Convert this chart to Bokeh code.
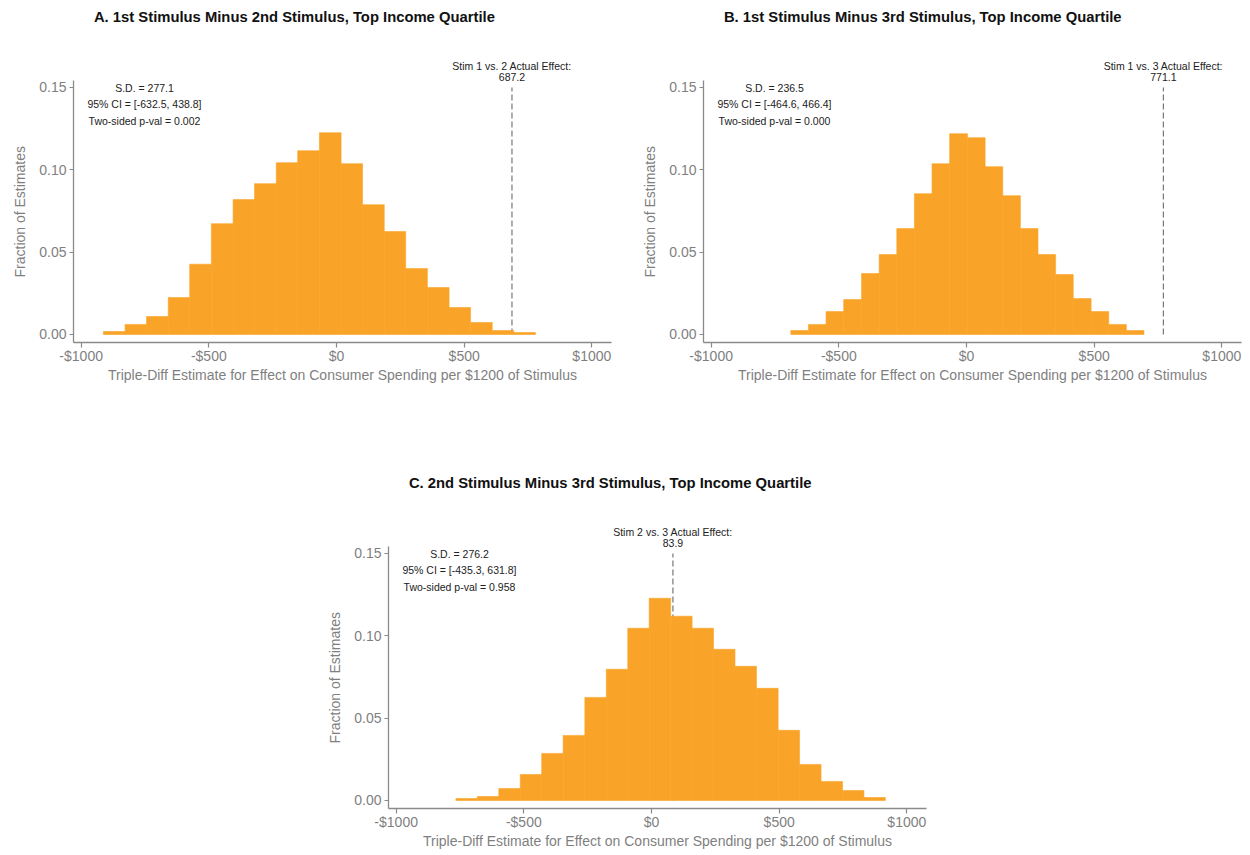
from bokeh.plotting import figure
from bokeh.layouts import column, row
from bokeh.models import Spacer, FixedTicker, NumeralTickFormatter, Title
from bokeh.embed import file_html
from bokeh.resources import INLINE
from bokeh.core.properties import value

# ---------------- data ----------------
titles = [
    "A. 1st Stimulus Minus 2nd Stimulus, Top Income Quartile",
    "B. 1st Stimulus Minus 3rd Stimulus, Top Income Quartile",
    "C. 2nd Stimulus Minus 3rd Stimulus, Top Income Quartile",
]

edges_a = [-913, -828, -744, -659, -575, -490, -405, -321, -236, -152, -67,
           18, 102, 187, 271, 356, 441, 525, 610, 694, 779]
frac_a = [0.0018, 0.0061, 0.0109, 0.0224, 0.0427, 0.0673, 0.0819, 0.0916, 0.1043, 0.1116,
          0.1225, 0.1037, 0.0788, 0.0625, 0.0400, 0.0285, 0.0164, 0.0073, 0.0024, 0.0012]

edges_b = [-688, -619, -550, -481, -411, -342, -273, -204, -135, -66, 4,
           73, 142, 211, 280, 349, 418, 488, 557, 626, 695]
frac_b = [0.0024, 0.0061, 0.0139, 0.0212, 0.0370, 0.0485, 0.0643, 0.0855, 0.1037, 0.1219,
          0.1195, 0.1019, 0.0843, 0.0643, 0.0485, 0.0364, 0.0218, 0.0139, 0.0061, 0.0024]

edges_c = [-766, -682, -598, -514, -430, -346, -261, -177, -93, -9, 75,
           159, 243, 327, 411, 496, 580, 664, 748, 832, 916]
frac_c = [0.0012, 0.0024, 0.0073, 0.0158, 0.0286, 0.0395, 0.0626, 0.0797, 0.1046, 0.1228,
          0.1119, 0.1046, 0.0918, 0.0815, 0.0681, 0.0426, 0.0219, 0.0116, 0.0061, 0.0018]

sd_values = ["277.1", "236.5", "276.2"]
ci_values = ["[-632.5, 438.8]", "[-464.6, 466.4]", "[-435.3, 631.8]"]
p_values = ["0.002", "0.000", "0.958"]
effect_names = ["Stim 1 vs. 2 Actual Effect:", "Stim 1 vs. 3 Actual Effect:", "Stim 2 vs. 3 Actual Effect:"]
effects = [687.2, 771.1, 83.9]

x_ticks = [-1000, -500, 0, 500, 1000]
x_tick_labels = ["-$1000", "-$500", "$0", "$500", "$1000"]
y_ticks = [0.0, 0.05, 0.10, 0.15]

x_title = "Triple-Diff Estimate for Effect on Consumer Spending per $1200 of Stimulus"
y_title = "Fraction of Estimates"

# ---------------- styling ----------------
FONT = "Liberation Sans"
BAR = "#F9A428"
GRAY = "#7f7f7f"
AXIS = "#8a8a8a"

FRAME_W, FRAME_H = 538, 342
Y0 = -0.00486
Y1 = 0.2028
X0, X1 = -1030, 1077


def make_panel(title, edges, fracs, sd, ci, pv, eff_name, eff, right_border, bottom_border):
    p = figure(frame_width=FRAME_W, frame_height=FRAME_H,
               min_border_left=73, min_border_right=right_border,
               min_border_top=0, min_border_bottom=bottom_border,
               x_range=(X0, X1), y_range=(Y0, Y1),
               output_backend="svg", toolbar_location=None)

    p.xgrid.visible = False
    p.ygrid.visible = False
    p.outline_line_color = None
    p.background_fill_color = "white"
    p.border_fill_color = "white"

    # panel title (drawn as text inside the top of the frame)
    p.text(x=[-950], y=[0.1925], text=[title], text_align="left", text_baseline="middle",
           text_font=value(FONT), text_font_size="14.8px", text_font_style="bold",
           text_color="#111111")

    # dashed reference line (behind bars)
    p.segment(x0=[eff], y0=[0], x1=[eff], y1=[0.15], line_color="#777777",
              line_width=1.2, line_dash="6 3")

    p.quad(left=edges[:-1], right=edges[1:], bottom=0, top=fracs,
           fill_color=BAR, line_color=BAR, line_width=0.6)

    p.text(x=[-752, -752, -752], y=[0.1497, 0.1400, 0.1298],
           text=["S.D. = " + sd, "95% CI = " + ci, "Two-sided p-val = " + pv],
           text_align="center", text_baseline="middle",
           text_font=value(FONT), text_font_size="10.5px", text_color="#222222")

    p.text(x=[eff, eff], y=[0.1632, 0.1565], text=[eff_name, f"{eff}"],
           text_align="center", text_baseline="middle",
           text_font=value(FONT), text_font_size="10.5px", text_color="#222222")

    # axes
    xa = p.xaxis[0]
    xa.ticker = FixedTicker(ticks=x_ticks)
    xa.major_label_overrides = {t: l for t, l in zip(x_ticks, x_tick_labels)}
    xa.axis_label = x_title
    xa.axis_label_text_font = FONT
    xa.axis_label_text_font_size = "14px"
    xa.axis_label_text_font_style = "normal"
    xa.axis_label_text_color = GRAY
    xa.axis_label_standoff = 0

    ya = p.yaxis[0]
    ya.ticker = FixedTicker(ticks=y_ticks)
    ya.formatter = NumeralTickFormatter(format="0.00")
    ya.bounds = (Y0, 0.1544)

    for ax in (xa, ya):
        ax.axis_line_color = AXIS
        ax.axis_line_width = 1.3
        ax.major_tick_line_color = AXIS
        ax.major_tick_line_width = 1.2
        ax.major_tick_in = 0
        ax.minor_tick_line_color = None
        ax.major_label_text_font = FONT
        ax.major_label_text_font_size = "14px"
        ax.major_label_text_color = GRAY
    xa.major_tick_out = 5
    xa.major_label_standoff = 0
    ya.major_tick_out = 4
    ya.major_label_standoff = 3

    yt = Title(text=y_title, align="left", offset=65, standoff=18,
               text_font=FONT, text_font_size="14px", text_font_style="normal",
               text_color=GRAY)
    p.add_layout(yt, "left")
    return p


pa = make_panel(titles[0], edges_a, frac_a, sd_values[0], ci_values[0], p_values[0],
                effect_names[0], effects[0], 19, 124)
pb = make_panel(titles[1], edges_b, frac_b, sd_values[1], ci_values[1], p_values[1],
                effect_names[1], effects[1], 9, 124)
pc = make_panel(titles[2], edges_c, frac_c, sd_values[2], ci_values[2], p_values[2],
                effect_names[2], effects[2], 19, 0)

layout = column(row(pa, pb), row(Spacer(width=315), pc))

open("out.html", "w").write(file_html(layout, INLINE))
